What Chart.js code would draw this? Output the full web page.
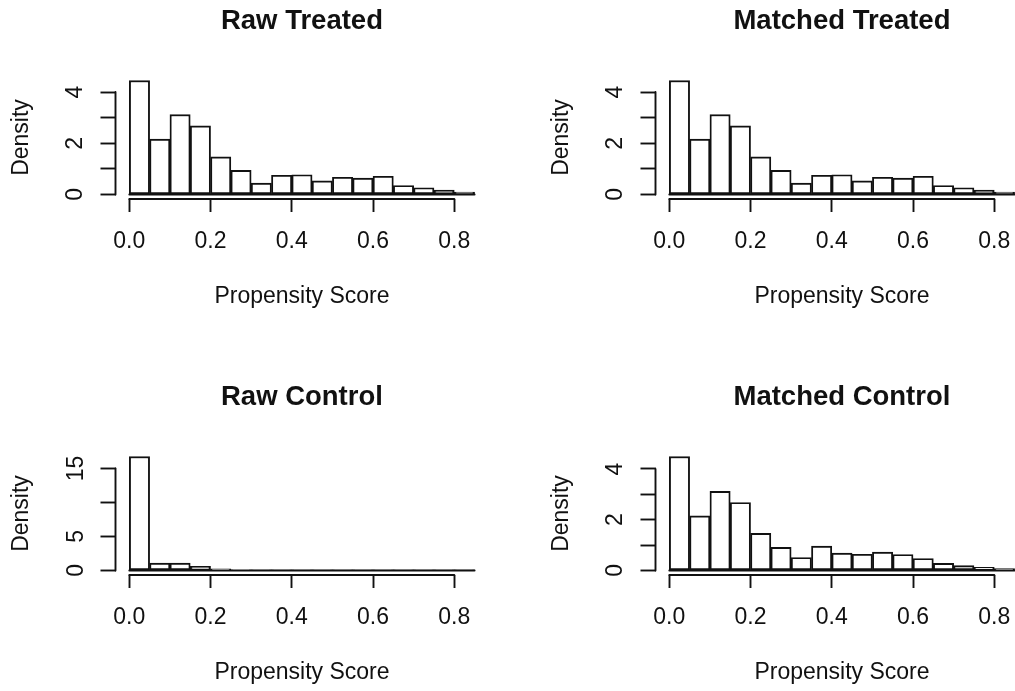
<!DOCTYPE html>
<html>
<head>
<meta charset="utf-8">
<script src="https://cdn.jsdelivr.net/npm/chart.js@4.4.1/dist/chart.umd.min.js"></script>
<style>
  html, body { margin: 0; padding: 0; background: #fff; overflow: hidden; width: 1015px; height: 691px; }
  canvas { position: absolute; }
</style>
</head>
<body>
<canvas id="p1" width="540" height="315" style="left:0px;top:0px;"></canvas>
<canvas id="p2" width="540" height="315" style="left:540px;top:0px;"></canvas>
<canvas id="p3" width="540" height="315" style="left:0px;top:376px;"></canvas>
<canvas id="p4" width="540" height="315" style="left:540px;top:376px;"></canvas>
<script>
// ---- data ----
const binEdges = [0, 0.05, 0.10, 0.15, 0.20, 0.25, 0.30, 0.35, 0.40, 0.45, 0.50, 0.55, 0.60, 0.65, 0.70, 0.75, 0.80, 0.85];
const binMids = [0.025, 0.075, 0.125, 0.175, 0.225, 0.275, 0.325, 0.375, 0.425, 0.475, 0.525, 0.575, 0.625, 0.675, 0.725, 0.775, 0.825];

const rawTreated     = [4.45, 2.16, 3.12, 2.68, 1.47, 0.94, 0.44, 0.75, 0.77, 0.53, 0.67, 0.64, 0.71, 0.35, 0.26, 0.17, 0.09];
const matchedTreated = [4.45, 2.16, 3.12, 2.68, 1.47, 0.94, 0.44, 0.75, 0.77, 0.53, 0.67, 0.64, 0.71, 0.35, 0.26, 0.17, 0.09];
const rawControl     = [16.76, 1.07, 1.07, 0.59, 0.25, 0.10, 0.05, 0.03, 0.02, 0.02, 0.01, 0.01, 0.01, 0.005, 0.005, 0.003, 0.002];
const matchedControl = [4.49, 2.15, 3.12, 2.68, 1.46, 0.91, 0.51, 0.96, 0.68, 0.64, 0.72, 0.63, 0.47, 0.28, 0.19, 0.12, 0.07];

const xTickValues = [0, 0.2, 0.4, 0.6, 0.8];
const xTickLabels = ['0.0', '0.2', '0.4', '0.6', '0.8'];
const yTicksSmall = [0, 1, 2, 3, 4];
const yLabelsSmall = ['0', '', '2', '', '4'];
const yTicksLarge = [0, 5, 10, 15];
const yLabelsLarge = ['0', '5', '', '15'];

const panelTitles = ['Raw Treated', 'Matched Treated', 'Raw Control', 'Matched Control'];
const xAxisTitle = 'Propensity Score';
const yAxisTitle = 'Density';

// ---- style ----
const FONT = "'Liberation Sans', Arial, Helvetica, sans-serif";
const INK = '#111';
const LW = 1.9;

const rAxesPlugin = {
  id: 'rAxes',
  afterDatasetsDraw(chart, args, opts) {
    const ctx = chart.ctx;
    const xs = chart.scales.x, ys = chart.scales.y;
    const area = chart.chartArea;
    ctx.save();
    ctx.strokeStyle = INK;
    ctx.lineWidth = LW;
    ctx.lineCap = 'round';
    // baseline of the histogram (bottom edges of the bins)
    ctx.beginPath();
    ctx.moveTo(xs.getPixelForValue(binEdges[0]), ys.getPixelForValue(0));
    ctx.lineTo(xs.getPixelForValue(binEdges[binEdges.length - 1]), ys.getPixelForValue(0));
    ctx.stroke();
    // x axis line (first to last tick)
    ctx.beginPath();
    ctx.moveTo(xs.getPixelForValue(xTickValues[0]), area.bottom);
    ctx.lineTo(xs.getPixelForValue(xTickValues[xTickValues.length - 1]), area.bottom);
    ctx.stroke();
    // y axis line (first to last tick)
    const yt = opts.yTicks;
    ctx.beginPath();
    ctx.moveTo(area.left, ys.getPixelForValue(yt[0]));
    ctx.lineTo(area.left, ys.getPixelForValue(yt[yt.length - 1]));
    ctx.stroke();
    ctx.restore();
  }
};

function makePanel(id, title, values, yTicks, yLabels, yLabelPad) {
  const ymax = Math.max(...values);
  const xmin = binEdges[0], xmax = binEdges[binEdges.length - 1];
  const xr = xmax - xmin;
  return new Chart(document.getElementById(id), {
    type: 'bar',
    data: {
      datasets: [{
        data: binMids.map((m, i) => ({ x: m, y: values[i] })),
        backgroundColor: '#ffffff',
        borderColor: INK,
        borderWidth: LW,
        borderSkipped: false,
        barPercentage: 1.0,
        categoryPercentage: 1.0
      }]
    },
    plugins: [rAxesPlugin],
    options: {
      responsive: false,
      devicePixelRatio: 1,
      animation: false,
      events: [],
      layout: { padding: { left: 0, right: 51.6, top: 0, bottom: 0 } },
      plugins: {
        legend: { display: false },
        tooltip: { enabled: false },
        rAxes: { yTicks: yTicks },
        title: {
          display: true,
          text: title,
          fullSize: false,
          color: INK,
          font: { family: FONT, size: 27.5, weight: 'bold', lineHeight: 1.2 },
          padding: { top: 4.6, bottom: 38.4 }
        }
      },
      scales: {
        x: {
          type: 'linear',
          offset: false,
          min: xmin - 0.04 * xr,
          max: xmax + 0.04 * xr,
          afterBuildTicks: (s) => { s.ticks = xTickValues.map(v => ({ value: v })); },
          afterFit: (s) => { s.height = 116; },
          grid: { display: true, offset: false, drawOnChartArea: false, drawTicks: true, tickLength: 13, tickWidth: LW, tickColor: INK },
          border: { display: false },
          ticks: {
            autoSkip: false, maxRotation: 0, minRotation: 0,
            padding: 15.5, color: INK,
            font: { family: FONT, size: 23, lineHeight: 1.2 },
            callback: (v, i) => xTickLabels[i]
          },
          title: {
            display: true, text: xAxisTitle, color: INK,
            font: { family: FONT, size: 23, lineHeight: 1.2 },
            padding: { top: 0, bottom: 5.0 }
          }
        },
        y: {
          type: 'linear',
          min: -0.04 * ymax,
          max: 1.04 * ymax,
          afterBuildTicks: (s) => { s.ticks = yTicks.map(v => ({ value: v })); },
          afterFit: (s) => { s.width = 115.5; },
          grid: { display: true, offset: false, drawOnChartArea: false, drawTicks: true, tickLength: 15, tickWidth: LW, tickColor: INK },
          border: { display: false },
          ticks: {
            autoSkip: false, minRotation: 90, maxRotation: 90,
            crossAlign: 'center', align: 'center',
            padding: yLabelPad, color: INK,
            font: { family: FONT, size: 23, lineHeight: 1.2 },
            callback: (v, i) => yLabels[i]
          },
          title: {
            display: true, text: yAxisTitle, color: INK,
            font: { family: FONT, size: 23, lineHeight: 1.2 },
            padding: { top: 7.5, bottom: 0 }
          }
        }
      }
    }
  });
}

makePanel('p1', panelTitles[0], rawTreated, yTicksSmall, yLabelsSmall, 18.3);
makePanel('p2', panelTitles[1], matchedTreated, yTicksSmall, yLabelsSmall, 18.3);
makePanel('p3', panelTitles[2], rawControl, yTicksLarge, yLabelsLarge, 11.0);
makePanel('p4', panelTitles[3], matchedControl, yTicksSmall, yLabelsSmall, 18.3);
</script>
</body>
</html>
